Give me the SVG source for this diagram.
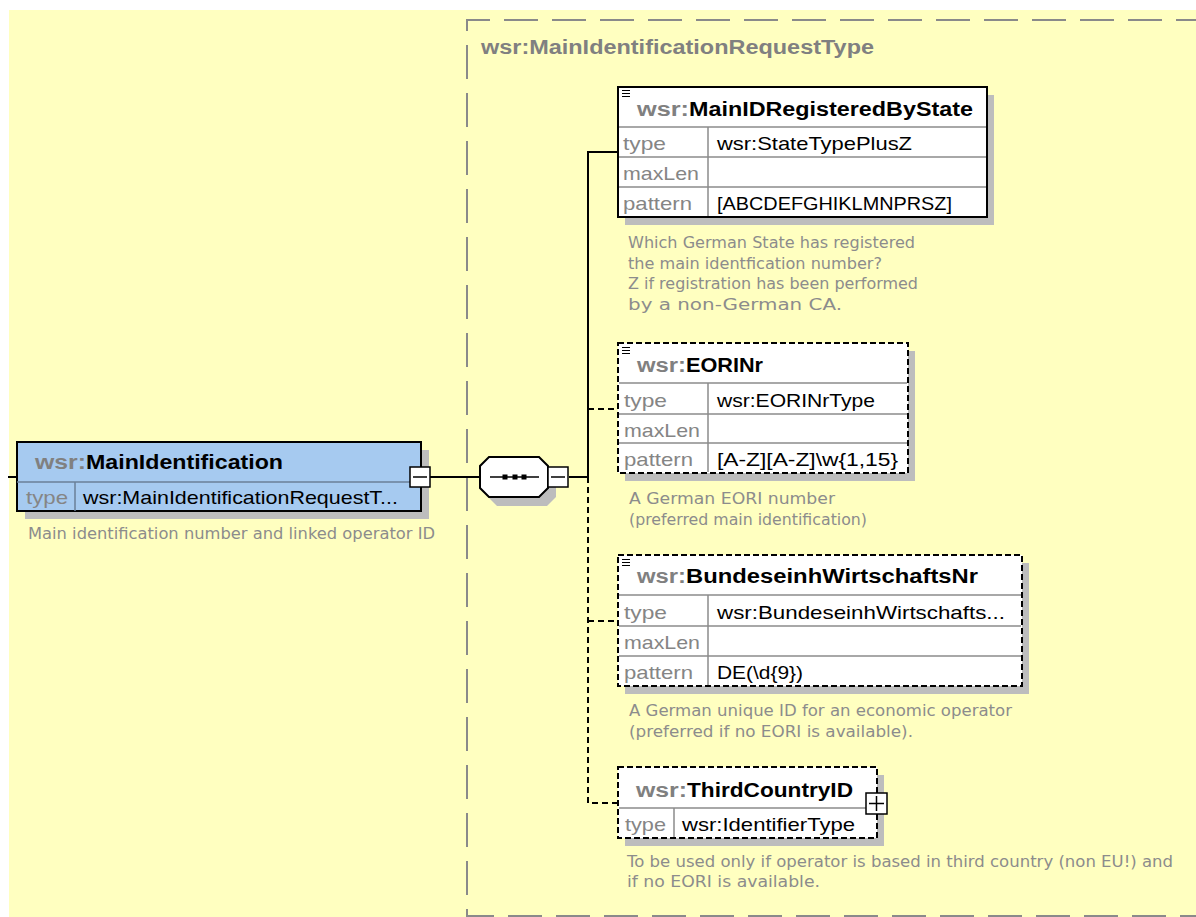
<svg xmlns="http://www.w3.org/2000/svg" width="1196" height="917" viewBox="0 0 1196 917">
<style>
.pfx{font-family:"Liberation Sans",Arial,sans-serif;font-size:20px;font-weight:bold;fill:#808080}
.nm{font-family:"Liberation Sans",Arial,sans-serif;font-size:20px;font-weight:bold;fill:#000}
.lbl{font-family:"Liberation Sans",Arial,sans-serif;font-size:19px;fill:#858585}
.val{font-family:"Liberation Sans",Arial,sans-serif;font-size:19px;fill:#000}
.desc{font-family:"DejaVu Sans","Noto Sans",sans-serif;font-size:16px;fill:#8c8c8c}
.ttl{font-family:"Liberation Sans",Arial,sans-serif;font-size:20px;font-weight:bold;fill:#808080}
.shadow{fill:#bdbdbd}
.box{stroke:#000;stroke-width:2}
.dashbox{stroke:#000;stroke-width:2;stroke-dasharray:6 3}
.sep{stroke:#8c8c8c;stroke-width:1.5;fill:none}
.ln{stroke:#000;stroke-width:2;fill:none}
.dln{stroke:#000;stroke-width:2;fill:none;stroke-dasharray:6 4}
.btn{fill:#fff;stroke:#000;stroke-width:1.5}
.ico{stroke:#000;stroke-width:1}
</style>
<rect x="9" y="10" width="1187" height="907" fill="#FFFFC0"/>
<g id="group-MainIdentificationRequestType">
<path d="M1210,20 H467 V916 H1210" fill="none" stroke="#8a8a8a" stroke-width="2" stroke-dasharray="34 14"/>
<text class="ttl" x="481" y="54" textLength="393" lengthAdjust="spacingAndGlyphs">wsr:MainIdentificationRequestType</text>
</g>
<g id="connectors">
<path class="ln" d="M8,477 H17"/>
<path class="ln" d="M430,477 H480"/>
<path class="ln" d="M569,477 H588"/>
<path class="ln" d="M618,152 H588 V477"/>
<path class="dln" d="M588,477 V803 H618"/>
<path class="dln" d="M588,409 H618"/>
<path class="dln" d="M588,621 H618"/>
</g>
<g id="node-MainIdentification">
<rect class="shadow" x="25" y="450" width="404" height="69"/>
<rect x="17" y="442" width="404" height="69" fill="#A6CAF0" class="box"/>
<line x1="17" y1="482" x2="421" y2="482" style="stroke:#6a7f99;stroke-width:1.5"/>
<line x1="75" y1="482" x2="75" y2="511" style="stroke:#6a7f99;stroke-width:1.5"/>
<text class="pfx" x="35" y="469" textLength="51" lengthAdjust="spacingAndGlyphs">wsr:</text>
<text class="nm" x="86" y="469" textLength="197" lengthAdjust="spacingAndGlyphs">MainIdentification</text>
<text class="lbl" x="26" y="504" textLength="42" lengthAdjust="spacingAndGlyphs">type</text>
<text class="val" x="83" y="504" textLength="315" lengthAdjust="spacingAndGlyphs">wsr:MainIdentificationRequestT...</text>
<rect class="btn" x="410" y="467" width="20" height="20"/>
<line x1="413" y1="477" x2="427" y2="477" stroke="#000" stroke-width="1.5"/>
<text class="desc" x="28" y="539" textLength="407" lengthAdjust="spacingAndGlyphs">Main identification number and linked operator ID</text>
</g>
<g id="node-sequence">
<polygon class="shadow" points="497,466 547,466 556,475 556,497 547,506 497,506 488,497 488,475"/>
<polygon points="489,457 539,457 548,466 548,488 539,497 489,497 480,488 480,466" fill="#fff" class="box"/>
<line x1="490" y1="477" x2="539" y2="477" stroke="#000" stroke-width="1.5"/>
<rect x="502.5" y="474.5" width="5" height="5" fill="#000"/>
<rect x="512.5" y="474.5" width="5" height="5" fill="#000"/>
<rect x="521.5" y="474.5" width="5" height="5" fill="#000"/>
<rect class="btn" x="548" y="467" width="20" height="20"/>
<line x1="551" y1="477" x2="565" y2="477" stroke="#000" stroke-width="1.5"/>
</g>
<g id="node-MainIDRegisteredByState">
<rect class="shadow" x="625" y="95" width="369" height="130"/>
<rect x="618" y="87" width="369" height="130" fill="#fff" class="box"/>
<path class="sep" d="M619,127 H986 M619,157 H986 M619,187 H986 M708,127 V216"/>
<path class="ico" d="M622,90.5 H630 M622,93.5 H630 M622,96.5 H630"/>
<text class="pfx" x="637" y="116" textLength="52" lengthAdjust="spacingAndGlyphs">wsr:</text>
<text class="nm" x="689" y="116" textLength="284" lengthAdjust="spacingAndGlyphs">MainIDRegisteredByState</text>
<text class="lbl" x="623" y="150" textLength="43" lengthAdjust="spacingAndGlyphs">type</text>
<text class="lbl" x="623" y="180" textLength="76" lengthAdjust="spacingAndGlyphs">maxLen</text>
<text class="lbl" x="623" y="210" textLength="69" lengthAdjust="spacingAndGlyphs">pattern</text>
<text class="val" x="717" y="150" textLength="195" lengthAdjust="spacingAndGlyphs">wsr:StateTypePlusZ</text>
<text class="val" x="717" y="210" textLength="235" lengthAdjust="spacingAndGlyphs">[ABCDEFGHIKLMNPRSZ]</text>
<text class="desc" x="628" y="248" textLength="287" lengthAdjust="spacingAndGlyphs">Which German State has registered</text>
<text class="desc" x="628" y="268.5" textLength="254" lengthAdjust="spacingAndGlyphs">the main identfication number?</text>
<text class="desc" x="628" y="289" textLength="290" lengthAdjust="spacingAndGlyphs">Z if registration has been performed</text>
<text class="desc" x="628" y="309.5" textLength="214" lengthAdjust="spacingAndGlyphs">by a non-German CA.</text>
</g>
<g id="node-EORINr">
<rect class="shadow" x="625" y="351" width="290" height="130"/>
<rect x="618" y="343" width="290" height="130" fill="#fff" class="dashbox"/>
<path class="sep" d="M619,383 H907 M619,414 H907 M619,443 H907 M708,383 V472"/>
<path class="ico" d="M622,347.5 H630 M622,350.5 H630 M622,353.5 H630"/>
<text class="pfx" x="637" y="372" textLength="49" lengthAdjust="spacingAndGlyphs">wsr:</text>
<text class="nm" x="686" y="372" textLength="77" lengthAdjust="spacingAndGlyphs">EORINr</text>
<text class="lbl" x="624" y="407" textLength="43" lengthAdjust="spacingAndGlyphs">type</text>
<text class="lbl" x="624" y="437" textLength="76" lengthAdjust="spacingAndGlyphs">maxLen</text>
<text class="lbl" x="624" y="466" textLength="69" lengthAdjust="spacingAndGlyphs">pattern</text>
<text class="val" x="717" y="407" textLength="158" lengthAdjust="spacingAndGlyphs">wsr:EORINrType</text>
<text class="val" x="717" y="466" textLength="181" lengthAdjust="spacingAndGlyphs">[A-Z][A-Z]\w{1,15}</text>
<text class="desc" x="629" y="504" textLength="206" lengthAdjust="spacingAndGlyphs">A German EORI number</text>
<text class="desc" x="629" y="524.5" textLength="238" lengthAdjust="spacingAndGlyphs">(preferred main identification)</text>
</g>
<g id="node-BundeseinhWirtschaftsNr">
<rect class="shadow" x="625" y="563" width="404" height="131"/>
<rect x="618" y="555" width="404" height="131" fill="#fff" class="dashbox"/>
<path class="sep" d="M619,595 H1021 M619,626 H1021 M619,656 H1021 M708,595 V685"/>
<path class="ico" d="M622,559.5 H630 M622,562.5 H630 M622,565.5 H630"/>
<text class="pfx" x="637" y="583" textLength="49" lengthAdjust="spacingAndGlyphs">wsr:</text>
<text class="nm" x="686" y="583" textLength="292" lengthAdjust="spacingAndGlyphs">BundeseinhWirtschaftsNr</text>
<text class="lbl" x="624" y="619" textLength="43" lengthAdjust="spacingAndGlyphs">type</text>
<text class="lbl" x="624" y="649" textLength="76" lengthAdjust="spacingAndGlyphs">maxLen</text>
<text class="lbl" x="624" y="679" textLength="69" lengthAdjust="spacingAndGlyphs">pattern</text>
<text class="val" x="717" y="619" textLength="288" lengthAdjust="spacingAndGlyphs">wsr:BundeseinhWirtschafts...</text>
<text class="val" x="717" y="679" textLength="86" lengthAdjust="spacingAndGlyphs">DE(\d{9})</text>
<text class="desc" x="629" y="716" textLength="383" lengthAdjust="spacingAndGlyphs">A German unique ID for an economic operator</text>
<text class="desc" x="629" y="736.5" textLength="284" lengthAdjust="spacingAndGlyphs">(preferred if no EORI is available).</text>
</g>
<g id="node-ThirdCountryID">
<rect class="shadow" x="625" y="775" width="259" height="71"/>
<rect x="618" y="767" width="259" height="71" fill="#fff" class="dashbox"/>
<path class="sep" d="M619,808 H876 M674,808 V837"/>
<text class="pfx" x="636" y="797" textLength="51" lengthAdjust="spacingAndGlyphs">wsr:</text>
<text class="nm" x="687" y="797" textLength="166" lengthAdjust="spacingAndGlyphs">ThirdCountryID</text>
<text class="lbl" x="625" y="831" textLength="41" lengthAdjust="spacingAndGlyphs">type</text>
<text class="val" x="682" y="831" textLength="173" lengthAdjust="spacingAndGlyphs">wsr:IdentifierType</text>
<rect class="btn" x="866" y="793" width="21" height="21"/>
<path d="M869,803.5 H884 M876.5,796 V811" stroke="#000" stroke-width="1.5"/>
<text class="desc" x="627" y="867" textLength="546" lengthAdjust="spacingAndGlyphs">To be used only if operator is based in third country (non EU!) and</text>
<text class="desc" x="627" y="887" textLength="193" lengthAdjust="spacingAndGlyphs">if no EORI is available.</text>
</g>
</svg>
